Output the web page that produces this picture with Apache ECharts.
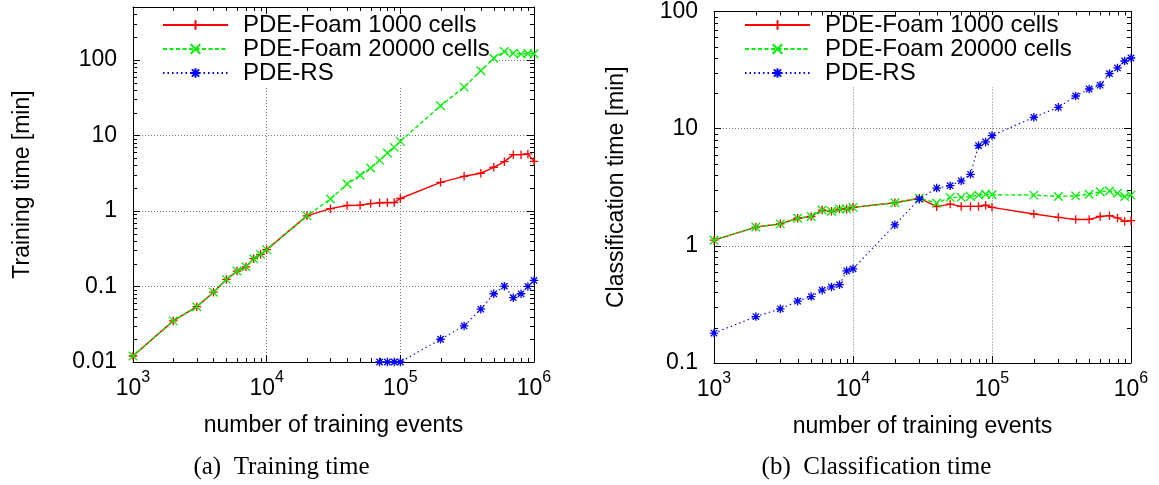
<!DOCTYPE html>
<html>
<head>
<meta charset="utf-8">
<script src="https://cdn.jsdelivr.net/npm/echarts@6/dist/echarts.min.js"></script>
<style>html,body{margin:0;padding:0;background:#fff}#c{width:1159px;height:485px}</style>
</head>
<body>
<div id="c"></div>
<script>
// ---- data ----
const events = [1000,2000,3000,4000,5000,6000,7000,8000,9000,10000,
  20000,30000,40000,50000,60000,70000,80000,90000,100000,
  200000,300000,400000,500000,600000,700000,800000,900000,1000000];

const trainFoam1000 = [0.012,0.035,0.054,0.084,0.124,0.16,0.182,0.233,0.266,0.307,
  0.86,1.07,1.18,1.19,1.25,1.28,1.29,1.29,1.46,
  2.39,2.87,3.15,3.78,4.49,5.55,5.55,5.67,4.53];
const trainFoam20000 = [0.012,0.035,0.054,0.084,0.124,0.16,0.182,0.233,0.266,0.307,
  0.86,1.44,2.27,2.96,3.70,4.67,5.84,6.94,8.33,
  24.7,43.5,71.6,105,129,122,119,121,120];
const trainRS = [null,null,null,null,null,null,null,null,null,null,
  null,null,null,null,null,0.01,0.01,0.01,0.01,
  0.020,0.030,0.050,0.080,0.101,0.071,0.080,0.100,0.120];

const classFoam1000 = [1.117,1.446,1.54,1.72,1.78,2.02,1.97,2.06,2.06,2.13,
  2.33,2.55,2.16,2.27,2.17,2.17,2.17,2.22,2.13,
  1.87,1.75,1.68,1.68,1.78,1.81,1.73,1.62,1.64];
const classFoam20000 = [1.117,1.446,1.54,1.72,1.78,2.02,1.97,2.06,2.06,2.13,
  2.33,2.55,2.32,2.59,2.59,2.64,2.71,2.76,2.73,
  2.71,2.64,2.67,2.76,2.89,2.94,2.81,2.64,2.71];
const classRS = [0.18,0.249,0.29,0.337,0.369,0.418,0.446,0.466,0.612,0.636,
  1.51,2.5,3.11,3.26,3.59,4.08,7.18,7.71,8.73,
  12.5,15.2,19.0,21.8,23.5,29.5,33.0,37.8,40.1];

const seriesNames = ['PDE-Foam 1000 cells','PDE-Foam 20000 cells','PDE-RS'];
const xTitle = 'number of training events';
const yTitles = ['Training time [min]','Classification time [min]'];
const captions = ['(a)  Training time','(b)  Classification time'];

// ---- styling ----
const FONT = 'Liberation Sans';
const FS = 23;
const styles = [
  {color:'#ff0000', type:'solid', width:1.4, symbol:'path://M0,4L8,4M4,0L4,8'},
  {color:'#00ee00', type:[4,2.5], width:1.4, symbol:'path://M0,0L8,8M0,8L8,0'},
  {color:'#0000ff', type:[1.5,3], width:1.1, symbol:'path://M0,4L8,4M4,0L4,8M1,1L7,7M1,7L7,1'}
];

function pair(vals){ return events.map((e,i)=>[e, vals[i]==null ? '-' : vals[i]]); }

function isPow10(v){ const l=Math.log10(v); return Math.abs(l-Math.round(l))<1e-6; }
function yFmt(v){
  if(!isPow10(v)) return '';
  const e=Math.round(Math.log10(v));
  return e<0 ? v.toFixed(-e) : String(Math.round(v));
}
function xFmt(v){
  if(!isPow10(v)) return '';
  return '{b|10}{s|'+Math.round(Math.log10(v))+'}';
}

const grids = [
  {left:133, top:7, width:401, height:355},
  {left:714, top:7, width:417, height:356}
];
const xRange = [1000,1000000];
const yRanges = [[0.01,500],[0.1,100]];

const gridLine = {show:true, lineStyle:{color:'#777', type:[1,2], width:1}};
const tickIn = {show:true, inside:true, length:7, lineStyle:{color:'#000'}};
const axLine = {show:true, onZero:false, lineStyle:{color:'#000', width:1}};

// minor (log 2..9) tick positions within a range
function minorTicks(lo, hi){
  const out=[];
  for(let k=Math.floor(Math.log10(lo)); k<=Math.ceil(Math.log10(hi)); k++){
    for(let m=2;m<=9;m++){ const v=m*Math.pow(10,k); if(v>lo && v<hi) out.push(v); }
  }
  return out;
}

const xAxis=[], yAxis=[];
grids.forEach((g,gi)=>{
  xAxis.push({type:'log', logBase:10, gridIndex:gi, min:xRange[0], max:xRange[1], position:'bottom',
    axisLine:axLine, axisTick:tickIn, splitLine:gridLine,
    axisLabel:{margin:8, formatter:xFmt, color:'#000',
      rich:{b:{fontFamily:FONT, fontSize:FS, color:'#000', verticalAlign:'bottom', lineHeight:30},
            s:{fontFamily:FONT, fontSize:16, color:'#000', verticalAlign:'top', lineHeight:30}}},
    name:xTitle, nameLocation:'middle', nameGap:52,
    nameTextStyle:{fontFamily:FONT, fontSize:FS, color:'#000'}});
  xAxis.push({type:'log', logBase:10, gridIndex:gi, min:xRange[0], max:xRange[1], position:'top',
    axisLine:axLine, axisTick:tickIn, splitLine:{show:false}, axisLabel:{show:false}});
  yAxis.push({type:'log', logBase:10, gridIndex:gi, min:yRanges[gi][0], max:yRanges[gi][1], position:'left',
    axisLine:axLine, axisTick:tickIn, splitLine:gridLine,
    axisLabel:{margin:16, formatter:yFmt, fontFamily:FONT, fontSize:FS, color:'#000'},
    name:yTitles[gi], nameLocation:'middle', nameGap: gi===0 ? 99 : 86,
    nameTextStyle:{fontFamily:FONT, fontSize:FS, color:'#000'}});
  yAxis.push({type:'log', logBase:10, gridIndex:gi, min:yRanges[gi][0], max:yRanges[gi][1], position:'right',
    axisLine:axLine, axisTick:tickIn, splitLine:{show:false}, axisLabel:{show:false}});
});

const plotData = [[trainFoam1000,trainFoam20000,trainRS],[classFoam1000,classFoam20000,classRS]];
const series=[];
plotData.forEach((set,gi)=>{
  set.forEach((vals,si)=>{
    const st=styles[si];
    series.push({type:'line', name:seriesNames[si], xAxisIndex:gi*2, yAxisIndex:gi*2,
      data:pair(vals), symbol:st.symbol, symbolSize:8.5, showSymbol:true, clip:false,
      connectNulls:false, z: 2+si,
      lineStyle:{color:st.color, type:st.type, width:st.width},
      itemStyle:{color:'rgba(0,0,0,0)', borderColor:st.color, borderWidth:1.3}});
  });
  // minor ticks on all four sides (drawn through the axes' own log scales)
  const yr=yRanges[gi];
  const TL=4;
  series.push({type:'custom', silent:true, clip:false, z:1, xAxisIndex:gi*2, yAxisIndex:gi*2,
    data:minorTicks(xRange[0],xRange[1]).map(v=>[v, yr[0]]),
    renderItem:function(params, api){
      const x=api.value(0);
      const pb=api.coord([x, yr[0]]), pt=api.coord([x, yr[1]]);
      const xx=Math.round(pb[0])+0.5;
      return {type:'group', children:[
        {type:'line', shape:{x1:xx,y1:pb[1],x2:xx,y2:pb[1]-TL}, style:{stroke:'#000',lineWidth:1}},
        {type:'line', shape:{x1:xx,y1:pt[1],x2:xx,y2:pt[1]+TL}, style:{stroke:'#000',lineWidth:1}}
      ]};
    }});
  series.push({type:'custom', silent:true, clip:false, z:1, xAxisIndex:gi*2, yAxisIndex:gi*2,
    data:minorTicks(yr[0],yr[1]).map(v=>[xRange[0], v]),
    renderItem:function(params, api){
      const y=api.value(1);
      const pl=api.coord([xRange[0], y]), pr=api.coord([xRange[1], y]);
      const yy=Math.round(pl[1])+0.5;
      return {type:'group', children:[
        {type:'line', shape:{x1:pl[0],y1:yy,x2:pl[0]+TL,y2:yy}, style:{stroke:'#000',lineWidth:1}},
        {type:'line', shape:{x1:pr[0],y1:yy,x2:pr[0]-TL,y2:yy}, style:{stroke:'#000',lineWidth:1}}
      ]};
    }});
});

const legendCommon = {orient:'vertical', top:10, itemWidth:65, itemHeight:12, itemGap:0,
  padding:[3,6,3,22], data:seriesNames, selectedMode:false,
  textStyle:{fontFamily:FONT, fontSize:24, color:'#000', lineHeight:24, padding:[0,0,0,10]}};

const option = {
  animation:false,
  backgroundColor:'#fff',
  grid:grids,
  xAxis, yAxis, series,
  legend:[Object.assign({left:140}, legendCommon), Object.assign({left:722}, legendCommon)],
  graphic:[
    // key area: grid lines are not drawn behind the key
    {type:'rect', z:1, silent:true, shape:{x:141, y:15, width:350, height:72}, style:{fill:'#fff'}},
    {type:'rect', z:1, silent:true, shape:{x:722, y:15, width:355, height:72}, style:{fill:'#fff'}},
    {type:'text', x:281.5, y:467, style:{text:captions[0], textAlign:'center', textVerticalAlign:'middle',
      font:'25px "Liberation Serif"', fill:'#000'}},
    {type:'text', x:876.5, y:467, style:{text:captions[1], textAlign:'center', textVerticalAlign:'middle',
      font:'25px "Liberation Serif"', fill:'#000'}}
  ]
};
const chart = echarts.init(document.getElementById('c'), null, {renderer:'canvas'});
chart.setOption(option);
</script>
</body>
</html>
